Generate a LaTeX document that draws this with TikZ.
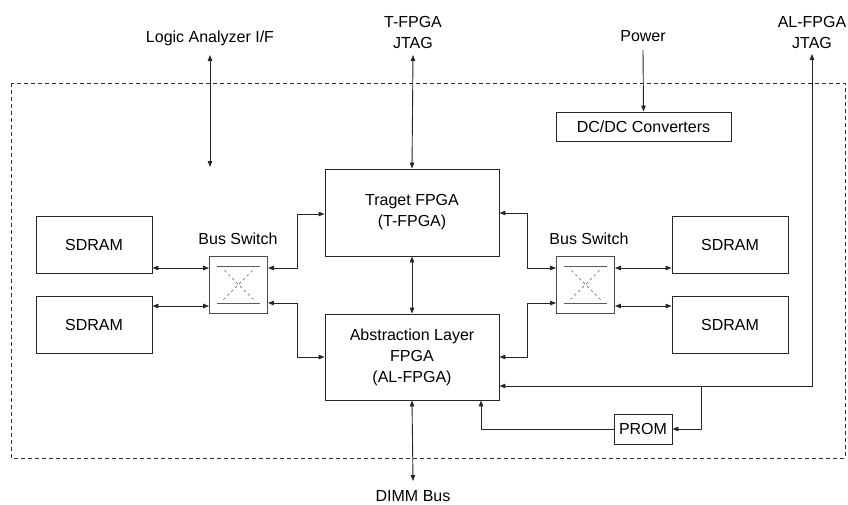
\documentclass[tikz,border=0pt]{standalone}
\usepackage{fontspec}
\setmainfont{Liberation Sans}
\usetikzlibrary{arrows.meta}
\begin{document}
\begin{tikzpicture}[x=1pt,y=-1pt,
  font=\fontsize{16}{21}\selectfont,
  wire/.style={line width=0.9pt,draw=black!85},
  tip/.tip={Triangle[length=6pt,width=4.5pt]},
  bi/.style={wire,tip-tip},
  uni/.style={wire,-tip},
  blk/.style={draw=black!85,line width=0.9pt,rectangle,inner sep=0pt,align=center},
  sw/.style={draw=black!70,line width=0.9pt,rectangle,inner sep=0pt,minimum width=58pt,minimum height=57pt},
  lbl/.style={align=center,inner sep=0pt}]
\useasboundingbox (0,0) rectangle (848,504);

% board outline
\draw[black!80,line width=0.8pt,dash pattern=on 4pt off 3pt] (11,83) rectangle (845,458);

% main blocks
\node[blk,minimum width=174pt,minimum height=87pt] (tf) at (412,212.5) {Traget FPGA\\(T-FPGA)};
\node[blk,minimum width=174pt,minimum height=86pt] (al) at (412,357) {Abstraction Layer\\FPGA\\(AL-FPGA)};
\node[blk,minimum width=116pt,minimum height=57pt] (sl1) at (94,244.5) {SDRAM};
\node[blk,minimum width=116pt,minimum height=57pt] (sl2) at (94,324.5) {SDRAM};
\node[blk,minimum width=116pt,minimum height=57pt] (sr1) at (730,244.5) {SDRAM};
\node[blk,minimum width=116pt,minimum height=57pt] (sr2) at (730,324.5) {SDRAM};
\node[blk,minimum width=175pt,minimum height=29pt] (dc) at (643.5,126.5) {DC/DC Converters};
\node[blk,minimum width=58pt,minimum height=30pt] (prom) at (643,429) {PROM};

% bus switches
\node[sw] (bl) at (238.5,284.5) {};
\node[sw] (br) at (585.5,284.5) {};
\node[lbl] at (238,239) {Bus Switch};
\node[lbl] at (589,239) {Bus Switch};
\foreach \s in {bl,br}{
  \draw[black!65,line width=0.9pt] ([xshift=8pt,yshift=-11pt]\s.north west) -- ([xshift=-8pt,yshift=-11pt]\s.north east);
  \draw[black!65,line width=0.9pt] ([xshift=8pt,yshift=10pt]\s.south west) -- ([xshift=-8pt,yshift=10pt]\s.south east);
  \draw[black!65,line width=0.6pt,dash pattern=on 2.5pt off 3pt] ([xshift=-15pt,yshift=-15pt]\s.center) -- ([xshift=15pt,yshift=15pt]\s.center);
  \draw[black!65,line width=0.6pt,dash pattern=on 2.5pt off 3pt] ([xshift=15pt,yshift=-15pt]\s.center) -- ([xshift=-15pt,yshift=15pt]\s.center);
}

% outside labels
\node[lbl] (la) at (210,38) {Logic Analyzer I/F};
\node[lbl] (tj) at (413,32) {T-FPGA\\JTAG};
\node[lbl] (pw) at (643,36) {Power};
\node[lbl] (aj) at (812,32) {AL-FPGA\\JTAG};
\node[lbl] (dimm) at (413,496) {DIMM Bus};

% free ends of the external links
\coordinate (laTop) at (210,55);
\coordinate (laBot) at (210,167);
\coordinate (tjEnd) at (413,55);
\coordinate (pwEnd) at (643,50);
\coordinate (ajEnd) at (812,54);
\coordinate (dimmEnd) at (413,481);
\coordinate (ajCorner) at (812,386);
\coordinate (promTap) at (701,386);

\draw[bi] (laTop) -- (laBot);
\draw[bi] (tjEnd) -- (tf.north);
\draw[uni] (pwEnd) -- (dc.north);
\draw[bi] (tf.south) -- (al.north);
\draw[bi] (al.south) -- (dimmEnd);

% SDRAM <-> bus switch
\draw[bi] (sl1.east |- 0,268) -- (bl.west |- 0,268);
\draw[bi] (sl2.east |- 0,306) -- (bl.west |- 0,306);
\draw[bi] (br.east |- 0,268) -- (sr1.west |- 0,268);
\draw[bi] (br.east |- 0,306) -- (sr2.west |- 0,306);

% bus switch <-> FPGAs
\draw[bi] (bl.east |- 0,268) -| (297,214) -- (tf.west |- 0,214);
\draw[bi] (bl.east |- 0,303) -| (297,357) -- (al.west |- 0,357);
\draw[bi] (tf.east |- 0,213) -| (527,268) -- (br.west |- 0,268);
\draw[bi] (al.east |- 0,357) -| (527,303) -- (br.west |- 0,303);

% AL-FPGA JTAG chain and PROM
\draw[bi] (al.east |- ajCorner) -- (ajCorner) -- (ajEnd);
\draw[uni] (promTap) |- (prom.east);
\draw[uni] (prom.west) -| (481,0 |- al.south);
\end{tikzpicture}
\end{document}
